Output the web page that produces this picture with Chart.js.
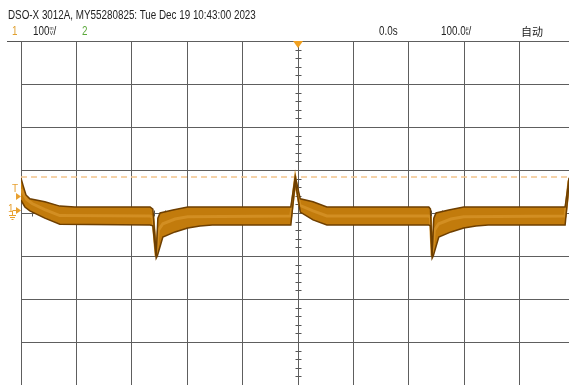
<!DOCTYPE html>
<html>
<head>
<meta charset="utf-8">
<script src="https://cdn.jsdelivr.net/npm/chart.js@4/dist/chart.umd.min.js"></script>
<style>
html, body { margin:0; padding:0; background:#fff; overflow:hidden; }
#wrap { position:relative; width:569px; height:385px; font-family:"Liberation Sans",sans-serif; color:#222; }
canvas { position:absolute; left:0; top:0; }
.t { position:absolute; font-size:12px; white-space:nowrap; line-height:12px; transform:scaleX(0.82); transform-origin:left top; }
.stk { display:inline-block; font-size:6px; line-height:5px; vertical-align:top; text-align:center; margin-top:1px; }
</style>
</head>
<body>
<div id="wrap">
  <canvas id="scope" width="569" height="385"></canvas>
  <div class="t" style="left:8px; top:9px;">DSO-X 3012A, MY55280825: Tue Dec 19 10:43:00 2023</div>
  <div class="t" style="left:12px; top:25px; color:#e0a030;">1</div>
  <div class="t" style="left:33px; top:25px;">100<span class="stk">m<br>V</span>/</div>
  <div class="t" style="left:82px; top:25px; color:#5aa83a;">2</div>
  <div class="t" style="left:379px; top:25px;">0.0s</div>
  <div class="t" style="left:441px; top:25px;">100.0<span class="stk">µ<br>s</span>/</div>
  <div class="t" style="left:521px; top:25px; font-family:'Noto Sans CJK SC'; font-size:11px; transform:none;">自动</div>
</div>
<script>
// time in µs, level in mV (100 mV/div, 100 µs/div)
const upperT  = [-500,-496,-491,-484,-457,-430,-403,-267,-262,-256,-253,-249,-226,-199,-13,-5,4,27,52,236,239,242,245,249,272,299,482,487,489];
const upperMv = [81,63,42,33,26,16,14,14,9,-98,-12,0,7,14,14,84,33,26,14,14,9,-98,-12,0,7,14,14,60,82];

const lowerT  = [-500,-493,-484,-457,-430,-267,-262,-256,-254,-244,-222,-199,-177,-155,-13,-5,4,27,52,236,239,242,244,254,276,299,321,343,482,487,489];
const lowerMv = [30,14,5,-12,-26,-28,-30,-105,-100,-56,-44,-35,-30,-28,-28,74,2,-16,-28,-28,-30,-105,-100,-56,-44,-35,-30,-28,-28,40,70];

const midT  = [-500,-490,-480,-457,-430,-267,-262,-256,-252,-244,-222,-199,-13,-5,3,27,52,236,239,242,246,254,276,299,482,487,489];
const midMv = [55,32,22,8,-6,-7,-10,-100,-40,-25,-14,-9,-7,78,18,5,-7,-7,-10,-100,-40,-25,-14,-9,-7,50,76];

const triggerMv = 84;
const timeRange = [-500, 489];
const voltRange = [-400, 400];

const pts = (ts, vs) => ts.map((t, i) => ({x: t, y: vs[i]}));

const scopeMarks = {
    id: 'scopeMarks',
    beforeDraw(chart) {
        const {ctx, scales: {x, y}, chartArea: a} = chart;
        ctx.save();
        ctx.strokeStyle = '#555';
        ctx.lineWidth = 1;
        ctx.beginPath();
        // header rule
        ctx.moveTo(7, a.top + 0.5); ctx.lineTo(a.left, a.top + 0.5);
        // minor ticks on centre axes
        const cx = Math.round(x.getPixelForValue(0)) + 0.5;
        for (let v = voltRange[0]; v <= voltRange[1]; v += 20) {
            if (v % 100 === 0) continue;
            const py = Math.round(y.getPixelForValue(v)) + 0.5;
            ctx.moveTo(cx - 3, py); ctx.lineTo(cx + 3, py);
        }
        const cy = Math.round(y.getPixelForValue(0)) + 0.5;
        for (let t = timeRange[0]; t <= timeRange[1]; t += 20) {
            if (t % 100 === 0) continue;
            const px = Math.round(x.getPixelForValue(t)) + 0.5;
            ctx.moveTo(px, cy - 3); ctx.lineTo(px, cy + 3);
        }
        ctx.stroke();
        ctx.restore();
    },
    afterDraw(chart) {
        const {ctx, scales: {x, y}, chartArea: a} = chart;
        ctx.save();
        ctx.fillStyle = '#f0a020';
        // trigger position marker
        const tx = x.getPixelForValue(0);
        ctx.beginPath();
        ctx.moveTo(tx - 5, a.top); ctx.lineTo(tx + 5, a.top); ctx.lineTo(tx, a.top + 7);
        ctx.closePath(); ctx.fill();
        // T marker and channel 1 ground marker
        const gy = y.getPixelForValue(0);
        ctx.fillStyle = '#e8a030';
        ctx.strokeStyle = '#e8a030';
        ctx.font = '10px "Liberation Sans", sans-serif';
        ctx.fillText('T', 12, gy - 21);
        ctx.beginPath();
        ctx.moveTo(16, gy - 20); ctx.lineTo(21, gy - 16.5); ctx.lineTo(16, gy - 13);
        ctx.closePath(); ctx.fill();
        ctx.fillText('1', 8, gy - 1);
        ctx.beginPath();
        ctx.moveTo(16, gy - 6); ctx.lineTo(21, gy - 2.5); ctx.lineTo(16, gy + 1);
        ctx.closePath(); ctx.fill();
        ctx.lineWidth = 1;
        ctx.beginPath();
        ctx.moveTo(12.5, gy - 2); ctx.lineTo(12.5, gy + 2);
        ctx.moveTo(12.5, gy - 2.5); ctx.lineTo(16, gy - 2.5);
        ctx.moveTo(9, gy + 2.5); ctx.lineTo(16, gy + 2.5);
        ctx.moveTo(10, gy + 4.5); ctx.lineTo(15, gy + 4.5);
        ctx.moveTo(11.5, gy + 6.5); ctx.lineTo(13.5, gy + 6.5);
        ctx.stroke();
        ctx.restore();
    }
};

new Chart(document.getElementById('scope'), {
    type: 'line',
    data: {
        datasets: [
            {
                label: 'upper',
                data: pts(upperT, upperMv),
                borderColor: '#6e3f00',
                borderWidth: 1.5,
                pointRadius: 0,
                fill: false
            },
            {
                label: 'lower',
                data: pts(lowerT, lowerMv),
                borderColor: '#6e3f00',
                borderWidth: 1.5,
                backgroundColor: '#c27b0c',
                pointRadius: 0,
                fill: '-1'
            },
            {
                label: 'mid',
                data: pts(midT, midMv),
                borderColor: '#d28e22',
                borderWidth: 3,
                pointRadius: 0,
                fill: false
            },
            {
                label: 'trigger',
                data: [{x: timeRange[0], y: triggerMv}, {x: timeRange[1], y: triggerMv}],
                borderColor: '#f2c48c',
                borderWidth: 1.5,
                borderDash: [6, 4],
                pointRadius: 0,
                fill: false
            }
        ]
    },
    options: {
        responsive: false,
        animation: false,
        devicePixelRatio: 1,
        layout: { padding: { left: 21, top: 41, right: 0, bottom: 0 } },
        plugins: {
            legend: { display: false },
            tooltip: { enabled: false },
            filler: { drawTime: 'beforeDatasetsDraw' }
        },
        scales: {
            x: {
                type: 'linear',
                min: timeRange[0],
                max: timeRange[1],
                ticks: { display: false, stepSize: 100 },
                afterBuildTicks: s => { s.ticks = s.ticks.filter(t => t.value % 100 === 0); },
                grid: { color: '#5e5e5e', lineWidth: 1, drawTicks: false },
                border: { display: false }
            },
            y: {
                min: voltRange[0],
                max: voltRange[1],
                ticks: { display: false, stepSize: 100 },
                grid: { color: '#5e5e5e', lineWidth: 1, drawTicks: false },
                border: { display: false }
            }
        }
    },
    plugins: [scopeMarks]
});
</script>
</body>
</html>
